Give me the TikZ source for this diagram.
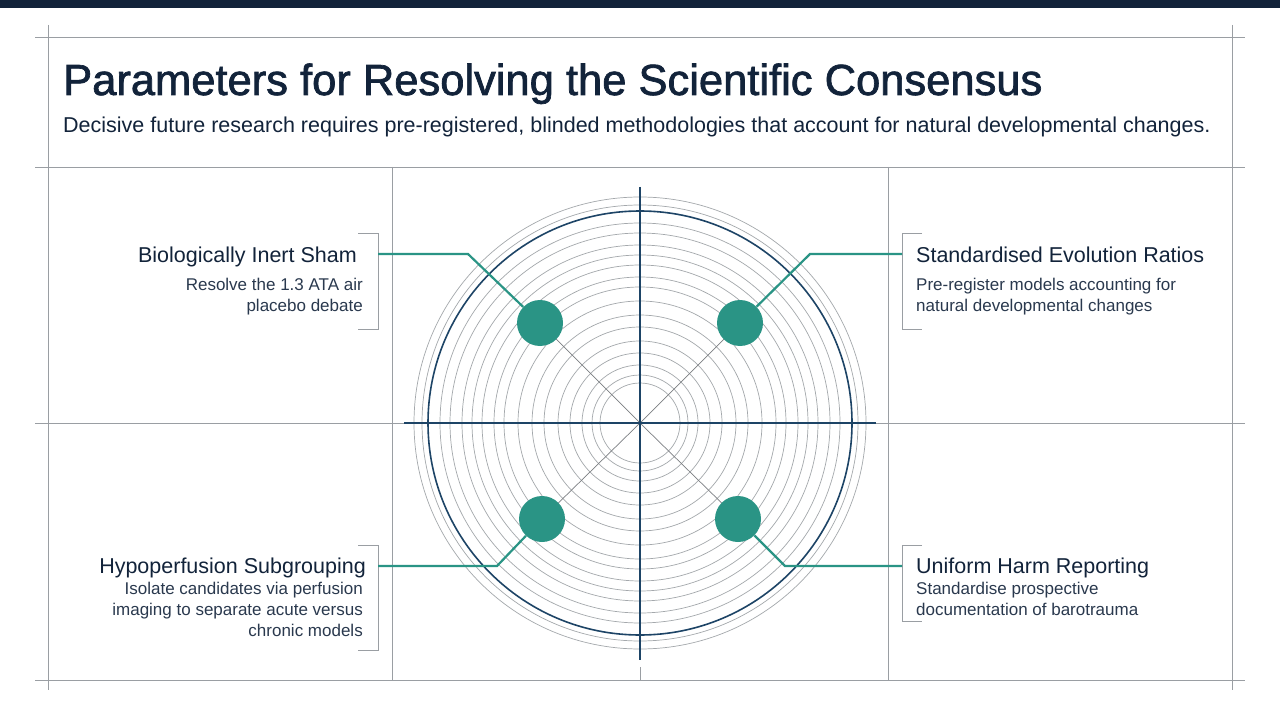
\documentclass[tikz,border=0pt]{standalone}
\usepackage{fontspec}
\setmainfont{Liberation Sans}
\newfontfamily\titlefont[FakeBold=1.6]{Liberation Sans}
\definecolor{navy}{HTML}{12233A}
\definecolor{teal}{HTML}{2A9485}
\definecolor{axis}{HTML}{1D4466}
\definecolor{gridg}{HTML}{9A9EA3}
\tikzset{
 frame/.style={draw=gridg, line width=0.8pt},
 ring/.style={draw=gridg!90, line width=0.7pt},
 conn/.style={draw=teal, line width=2.2pt},
 dot/.style={circle, fill=teal, minimum size=46pt, inner sep=0pt},
 head/.style={font=\fontsize{21.5}{25}\selectfont, text=navy, inner sep=0pt},
 body/.style={font=\fontsize{17}{21}\selectfont, text=navy!90, inner sep=0pt},
 brk/.style={draw=gridg, line width=0.8pt}
}
\begin{document}
\begin{tikzpicture}[x=1pt,y=-1pt]
\useasboundingbox (0,0) rectangle (1280,714);
\fill[white] (0,0) rectangle (1280,714);
\fill[navy] (0,0) rectangle (1280,8);
% frame
\draw[frame] (35,37) -- (1245,37);
\draw[frame] (35,167) -- (1245,167);
\draw[frame] (35,423) -- (404,423);
\draw[frame] (876,423) -- (1245,423);
\draw[frame] (35,680) -- (1245,680);
\draw[frame] (48,25) -- (48,690);
\draw[frame] (1232,25) -- (1232,690);
\draw[frame] (392,167) -- (392,680);
\draw[frame] (888,167) -- (888,680);
\draw[frame] (640,667) -- (640,680);
% title
\node[anchor=base west, inner sep=0pt, text=navy, font=\titlefont\fontsize{43.5}{48}\selectfont] (title) at (63,95) {Parameters for Resolving the Scientific Consensus};
\node[anchor=base west, inner sep=0pt, text=navy, font=\fontsize{21.5}{26}\selectfont] (sub) at (63,133) {Decisive future research requires pre-registered, blinded methodologies that account for natural developmental changes.};
% rings
\coordinate (c) at (640,423);
\foreach \r in {40,48,58,70,82,96,108,122,136,146,158,168,178,190,200,218,226}
  \draw[ring] (c) circle (\r);
\draw[axis, line width=1.6pt] (c) circle (212);
\draw[gridg!80!black, line width=0.7pt] (c) -- (540,323) (c) -- (740,323) (c) -- (542,519) (c) -- (738,519);
\draw[axis, line width=1.8pt] (640,187) -- (640,660);
\draw[axis, line width=1.8pt] (404,423) -- (876,423);
% dots
\node[dot] (d1) at (540,323) {};
\node[dot] (d2) at (740,323) {};
\node[dot] (d3) at (542,519) {};
\node[dot] (d4) at (738,519) {};
% brackets
\draw[brk] (358,233) -- (378,233) -- (378,329) -- (358,329);
\draw[brk] (922,233) -- (902,233) -- (902,329) -- (922,329);
\draw[brk] (358,545) -- (378,545) -- (378,650) -- (358,650);
\draw[brk] (922,545) -- (902,545) -- (902,621) -- (922,621);
\coordinate (b1) at (378,254); \coordinate (b2) at (902,254);
\coordinate (b3) at (378,566); \coordinate (b4) at (902,566);
\draw[conn] (b1) -- (468,254) -- (d1);
\draw[conn] (b2) -- (810,254) -- (d2);
\draw[conn] (b3) -- (497,566) -- (d3);
\draw[conn] (b4) -- (785,566) -- (d4);
% texts
\node[head, anchor=base east] (h1) at (357,262) {Biologically Inert Sham};
\node[body, anchor=north east, align=right] (t1) at (363,278) {Resolve the 1.3 ATA air\\placebo debate};
\node[head, anchor=base west] (h2) at (916,262) {Standardised Evolution Ratios};
\node[body, anchor=north west, align=left] (t2) at (916,278) {Pre-register models accounting for\\natural developmental changes};
\node[head, anchor=base east] (h3) at (366,573) {Hypoperfusion Subgrouping};
\node[body, anchor=north east, align=right] (t3) at (363,582) {Isolate candidates via perfusion\\imaging to separate acute versus\\chronic models};
\node[head, anchor=base west] (h4) at (916,573) {Uniform Harm Reporting};
\node[body, anchor=north west, align=left] (t4) at (916,582) {Standardise prospective\\documentation of barotrauma};
\end{tikzpicture}
\end{document}
